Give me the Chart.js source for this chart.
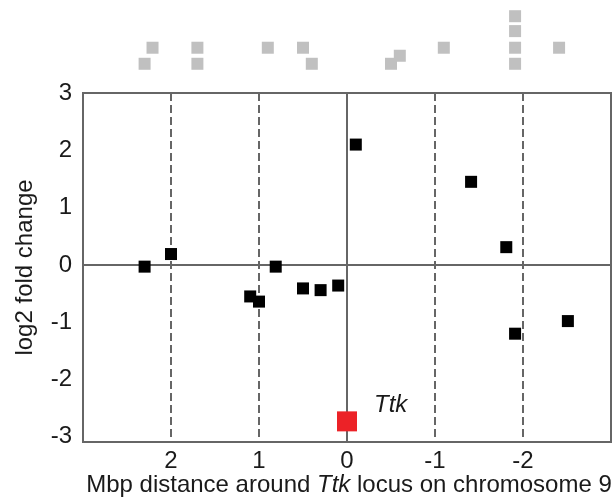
<!DOCTYPE html>
<html>
<head>
<meta charset="utf-8">
<script src="https://cdn.jsdelivr.net/npm/chart.js@4.4.1/dist/chart.umd.min.js"></script>
<style>
html,body{margin:0;padding:0;background:#fff;}
canvas{display:block;}
</style>
</head>
<body>
<canvas id="c" width="613" height="503"></canvas>
<script>
// ---- data ----
const xTicks = [2, 1, 0, -1, -2];
const yTicks = [-3, -2, -1, 0, 1, 2, 3];
const dashedX = [2, 1, -1, -2];
const solidX = [0];
const solidY = [0];

// gene positions (grey squares above the plot)
const geneX = [2.30, 2.21, 1.70, 1.70, 0.90, 0.50, 0.40, -0.50, -0.60, -1.10, -1.91, -1.91, -1.91, -1.91, -2.41];
const geneY = [3.51, 3.79, 3.79, 3.51, 3.79, 3.79, 3.51, 3.51, 3.65, 3.79, 4.34, 4.08, 3.79, 3.51, 3.79];

// log2 fold change of neighbouring genes
const foldX = [2.30, 2.00, 1.10, 1.00, 0.81, 0.50, 0.30, 0.10, -0.10, -1.41, -1.81, -1.91, -2.51];
const foldY = [-0.03, 0.19, -0.55, -0.64, -0.03, -0.41, -0.44, -0.36, 2.10, 1.45, 0.31, -1.20, -0.98];

// Ttk itself
const ttkX = [0];
const ttkY = [-2.73];
const ttkLabel = 'Ttk';

const FONT = 'Liberation Sans, Arial, Helvetica, sans-serif';
const TEXT = '#1a1a1a';
const LINE = '#666666';

const toPts = (xs, ys) => xs.map((v, i) => ({x: v, y: ys[i]}));

const overlay = {
  id: 'overlay',
  beforeDatasetsDraw(chart) {
    const {ctx, chartArea: a, scales: {x, y}} = chart;
    ctx.save();
    ctx.strokeStyle = LINE;
    ctx.lineWidth = 2;
    const line = (x1, y1, x2, y2) => { ctx.beginPath(); ctx.moveTo(x1, y1); ctx.lineTo(x2, y2); ctx.stroke(); };
    ctx.setLineDash([8, 4]);
    dashedX.forEach(v => { const p = x.getPixelForValue(v); line(p, a.top, p, a.bottom); });
    ctx.setLineDash([]);
    solidX.forEach(v => { const p = x.getPixelForValue(v); line(p, a.top, p, a.bottom); });
    solidY.forEach(v => { const p = y.getPixelForValue(v); line(a.left, p, a.right, p); });
    ctx.strokeRect(a.left, a.top, a.right - a.left, a.bottom - a.top);
    ctx.restore();
  },
  afterDatasetsDraw(chart) {
    const {ctx, chartArea: a, scales: {x, y}} = chart;
    // grey gene squares sit above the plot area: draw their elements without area culling
    const full = {left: 0, top: 0, right: chart.width, bottom: chart.height};
    chart.getDatasetMeta(0).data.forEach(pt => pt.draw(ctx, full));
    ctx.save();
    ctx.fillStyle = TEXT;
    ctx.textBaseline = 'alphabetic';
    // Ttk label next to red point
    const px = x.getPixelForValue(ttkX[0]);
    const py = y.getPixelForValue(ttkY[0]);
    ctx.font = 'italic 24px ' + FONT;
    ctx.textAlign = 'left';
    ctx.fillText(ttkLabel, px + 27, py - 9);
    // x-axis title with italic gene name
    const parts = [['Mbp distance around ', false], ['Ttk', true], [' locus on chromosome 9', false]];
    let total = 0;
    const widths = parts.map(([t, it]) => { ctx.font = (it ? 'italic ' : '') + '24px ' + FONT; const w = ctx.measureText(t).width; total += w; return w; });
    let cx = (a.left + a.right) / 2 + 2 - total / 2;
    parts.forEach(([t, it], i) => { ctx.font = (it ? 'italic ' : '') + '24px ' + FONT; ctx.fillText(t, cx, 492); cx += widths[i]; });
    ctx.restore();
  }
};

new Chart(document.getElementById('c'), {
  type: 'scatter',
  data: {
    datasets: [
      { label: 'genes', data: toPts(geneX, geneY), pointStyle: 'rect', pointRadius: 8.49, pointHoverRadius: 8.49,
        backgroundColor: '#c0c0c0', borderWidth: 0, clip: false },
      { label: 'fold', data: toPts(foldX, foldY), pointStyle: 'rect', pointRadius: 8.49, pointHoverRadius: 8.49,
        backgroundColor: '#000000', borderWidth: 0 },
      { label: 'Ttk', data: toPts(ttkX, ttkY), pointStyle: 'rect', pointRadius: 14.14, pointHoverRadius: 14.14,
        backgroundColor: '#ec2227', borderWidth: 0, clip: false }
    ]
  },
  options: {
    responsive: false,
    animation: false,
    events: [],
    layout: { autoPadding: false, padding: { top: 93, right: 2, bottom: 0, left: 0 } },
    plugins: { legend: { display: false }, tooltip: { enabled: false } },
    scales: {
      x: {
        type: 'linear', reverse: true, min: -3, max: 3,
        grid: { display: false, drawTicks: false }, border: { display: false },
        ticks: { font: { size: 24, family: FONT }, color: TEXT, padding: 5 },
        afterBuildTicks: s => { s.ticks = xTicks.map(v => ({ value: v })); },
        afterFit: s => { s.height = 61; s.paddingLeft = 0; s.paddingRight = 0; }
      },
      y: {
        type: 'linear', min: -3.09, max: 3,
        grid: { display: false, drawTicks: false }, border: { display: false },
        ticks: { font: { size: 24, family: FONT }, color: TEXT, padding: 11 },
        afterBuildTicks: s => { s.ticks = yTicks.map(v => ({ value: v })); },
        afterFit: s => { s.width = 83; s.paddingTop = 0; s.paddingBottom = 0; },
        title: { display: true, text: 'log2 fold change', font: { size: 24, family: FONT }, color: TEXT, padding: { top: 11, bottom: 0 } }
      }
    }
  },
  plugins: [overlay]
});
</script>
</body>
</html>
